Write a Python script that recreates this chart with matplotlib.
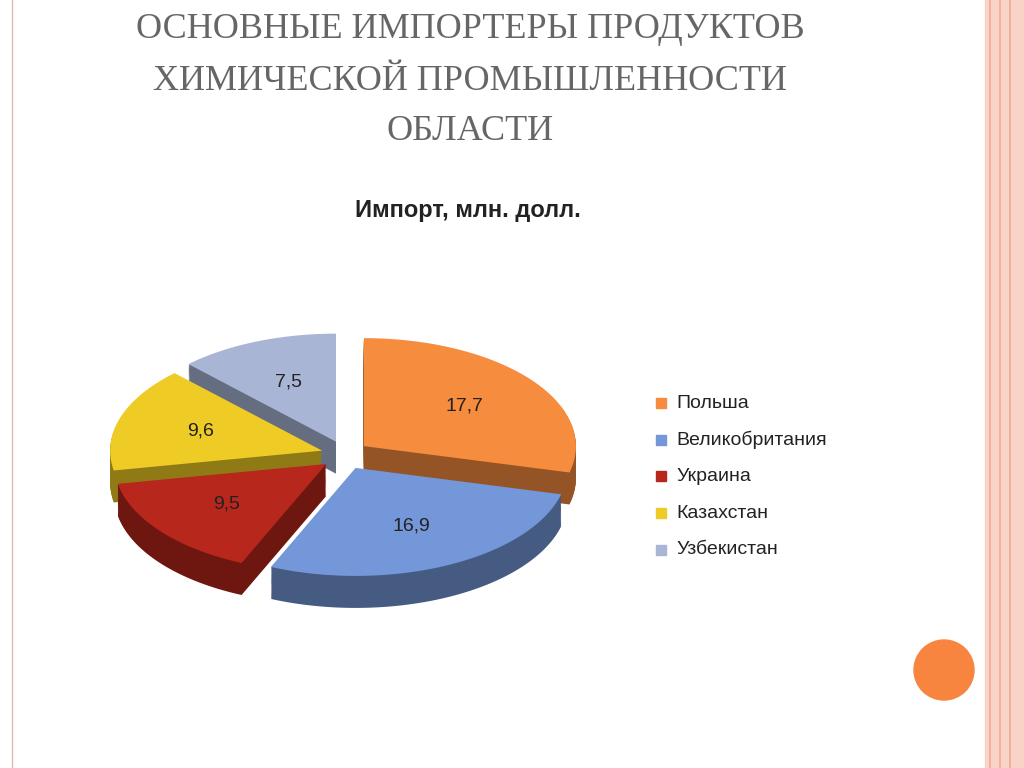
import numpy as np
import matplotlib.pyplot as plt
from matplotlib.patches import Polygon, Circle, Rectangle
from matplotlib.colors import to_rgb

countries = ["Польша", "Великобритания", "Украина", "Казахстан", "Узбекистан"]
values = [17.7, 16.9, 9.5, 9.6, 7.5]
labels = ["17,7", "16,9", "9,5", "9,6", "7,5"]
colors = ["#F68C3E", "#7397D8", "#B8271C", "#EFCB25", "#A9B5D5"]

fig = plt.figure(figsize=(10.24, 7.68), dpi=100)
ax = fig.add_axes([0, 0, 1, 1])
ax.set_xlim(0, 1024)
ax.set_ylim(768, 0)
ax.axis("off")

# slide decoration
ax.add_patch(Rectangle((985, 0), 39, 768, color="#F9D3C8", zorder=0))
for x in (990, 1000, 1010):
    ax.plot([x, x], [0, 768], color="#F2A995", lw=1.2, zorder=1)
ax.plot([12, 12], [0, 768], color="#E3B8AE", lw=1)
ax.add_patch(Circle((944, 670), 30, color="#F7853F", zorder=2))

serif = ["Liberation Serif", "DejaVu Serif"]
for txt, y in [("ОСНОВНЫЕ ИМПОРТЕРЫ ПРОДУКТОВ", 30),
               ("ХИМИЧЕСКОЙ ПРОМЫШЛЕННОСТИ", 82),
               ("ОБЛАСТИ", 132)]:
    ax.text(470, y, txt, ha="center", va="center", fontsize=26,
            family=serif, color="#666666")

ax.text(468, 210, "Импорт, млн. долл.", ha="center", va="center",
        fontsize=17, fontweight="bold", family="Liberation Sans", color="#222222")

# pseudo 3D exploded pie
cx, cy, rx, ry, depth, expl = 345, 455, 212, 108, 32, 24
total = sum(values)
start = 90.0
wedges = []
for v, c in zip(values, colors):
    span = 360 * v / total
    a0, a1 = start - span, start
    mid = np.radians((a0 + a1) / 2)
    ox, oy = cx + expl * np.cos(mid), cy - expl * 0.6 * np.sin(mid)
    wedges.append((a0, a1, ox, oy, c))
    start = a0

def wedge_poly(a0, a1, ox, oy, dy):
    t = np.radians(np.linspace(a0, a1, 80))
    xs = np.concatenate([[ox], ox + rx * np.cos(t)])
    ys = np.concatenate([[oy + dy], oy - ry * np.sin(t) + dy])
    return np.column_stack([xs, ys])

order = sorted(range(len(wedges)), key=lambda i: wedges[i][3])
for i in order:
    a0, a1, ox, oy, c = wedges[i]
    dark = tuple(np.array(to_rgb(c)) * 0.6)
    for dy in np.linspace(depth, 1, 30):
        ax.add_patch(Polygon(wedge_poly(a0, a1, ox, oy, dy), closed=True,
                             facecolor=dark, edgecolor="none", zorder=3))
    ax.add_patch(Polygon(wedge_poly(a0, a1, ox, oy, 0), closed=True,
                         facecolor=c, edgecolor="none", zorder=3))
    mid = np.radians((a0 + a1) / 2)
    ax.text(ox + rx * 0.6 * np.cos(mid), oy - ry * 0.6 * np.sin(mid),
            labels[i], ha="center", va="center", fontsize=14,
            family="Liberation Sans", color="#222222", zorder=4)

# legend
for k, (name, c) in enumerate(zip(countries, colors)):
    y = 403 + k * 36.7
    ax.add_patch(Rectangle((656, y - 5), 10, 10, color=c, zorder=4))
    ax.text(676, y, name, va="center", fontsize=14,
            family="Liberation Sans", color="#222222")

fig.savefig("out.png", dpi=100)
